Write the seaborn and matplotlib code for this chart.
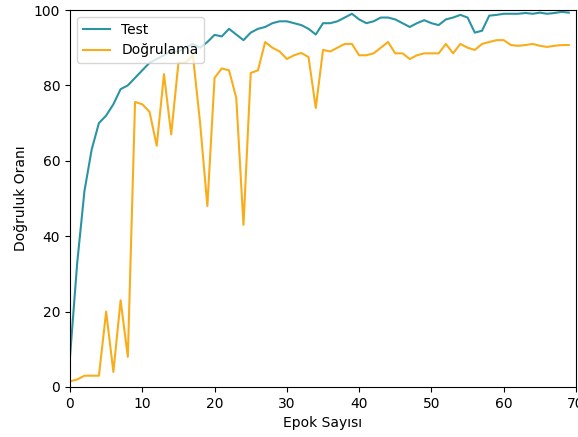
import matplotlib
matplotlib.use("Agg")
import matplotlib.pyplot as plt
import seaborn as sns
import pandas as pd
import numpy as np

epochs = list(range(70))

test_acc = [8, 33, 52, 63, 70, 72, 75, 79, 80, 82,
            84, 86, 87, 88, 89, 89, 90, 91, 90, 91.5,
            93.4, 93, 95, 93.5, 92, 94, 95, 95.5, 96.5, 97,
            97, 96.5, 96, 95, 93.5, 96.5, 96.5, 97, 98, 99,
            97.5, 96.5, 97, 98, 98, 97.5, 96.5, 95.5, 96.5, 97.3,
            96.5, 96, 97.5, 98, 98.7, 98, 94, 94.5, 98.5, 98.7,
            99, 99, 99, 99.2, 99, 99.3, 99, 99.2, 99.5, 99.3]

val_acc = [1.5, 2, 3, 3, 3, 20, 4, 23, 8, 75.6,
           75, 73, 64, 83, 67, 86, 86, 88, 70, 48,
           82, 84.5, 84, 76.7, 43, 83.3, 84, 91.5, 90, 89,
           87, 88, 88.6, 87.5, 74, 89.4, 89, 90, 91, 91,
           88, 88, 88.5, 90, 91.5, 88.5, 88.5, 87, 88, 88.5,
           88.5, 88.5, 91, 88.5, 91, 90, 89.4, 91, 91.5, 92,
           92, 90.7, 90.5, 90.7, 91, 90.5, 90.2, 90.5, 90.7, 90.7]

df = pd.DataFrame({
    "Epok": epochs * 2,
    "Oran": test_acc + val_acc,
    "Seri": ["Test"] * len(epochs) + ["Doğrulama"] * len(epochs),
})

W, H = 578, 437
fig = plt.figure(figsize=(W / 100, H / 100), dpi=100)
ax = fig.add_axes([70 / W, (H - 387) / H, 506 / W, 377 / H])

sns.lineplot(data=df, x="Epok", y="Oran", hue="Seri",
             palette={"Test": "#2a94a3", "Doğrulama": "#f9ad1a"},
             linewidth=1.5, ax=ax)

ax.set_xlim(0, 70)
ax.set_ylim(0, 100)
ax.set_xticks(range(0, 71, 10))
ax.set_yticks(range(0, 101, 20))
ax.set_xlabel("Epok Sayısı")
ax.set_ylabel("Doğruluk Oranı")
leg = ax.legend(loc="upper left", fontsize=10)
leg.set_title(None)

fig.savefig("out.png", dpi=100)
